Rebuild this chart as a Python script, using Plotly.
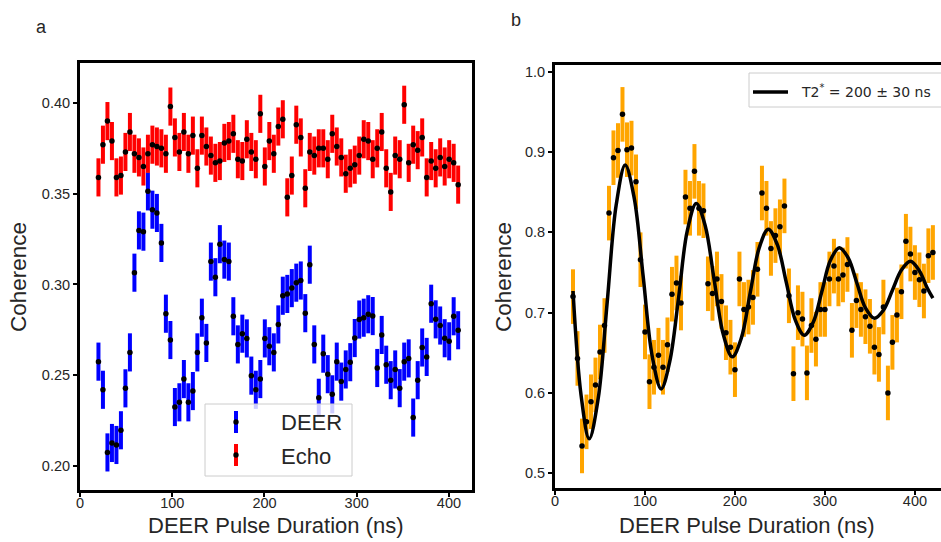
import numpy as np
import plotly.graph_objects as go

W, H = 941, 542

# ---------------- data ----------------
# Panel a (x grid: 81 samples between 20 and 410 ns)
X_A = np.linspace(20, 410, 81)
DEER = [0.2575, 0.242, 0.2075, 0.2127, 0.2116, 0.2197, 0.2428, 0.2626, 0.3065, 0.3298,
        0.3291, 0.3513, 0.3412, 0.3394, 0.3229, 0.2839, 0.2694, 0.2325, 0.2351, 0.2479,
        0.2351, 0.2413, 0.2626, 0.2817, 0.2678, 0.3126, 0.3040, 0.3222, 0.3137, 0.3126,
        0.2825, 0.267, 0.2729, 0.2703, 0.2498, 0.242, 0.2479, 0.2703, 0.266, 0.2626,
        0.278, 0.2938, 0.2948, 0.298, 0.301, 0.3022, 0.2842, 0.3109, 0.267, 0.2376,
        0.2619, 0.2506, 0.2395, 0.2575, 0.2465, 0.2532, 0.2572, 0.2705, 0.2807, 0.2817,
        0.2836, 0.2826, 0.254, 0.2722, 0.2558, 0.2473, 0.2532, 0.2429, 0.2575, 0.2593,
        0.2267, 0.2473, 0.2653, 0.2601, 0.2894, 0.2808, 0.2774, 0.2704, 0.2687, 0.2825,
        0.2748]
ECHO = [0.359, 0.377, 0.390, 0.379, 0.359, 0.360, 0.373, 0.384, 0.372, 0.370,
        0.365, 0.372, 0.377, 0.376, 0.375, 0.372, 0.398, 0.381, 0.373, 0.384,
        0.372, 0.382, 0.364, 0.382, 0.376, 0.371, 0.367, 0.368, 0.378, 0.379,
        0.383, 0.369, 0.368, 0.380, 0.373, 0.369, 0.394, 0.365, 0.379, 0.372,
        0.387, 0.391, 0.348, 0.360, 0.388, 0.381, 0.353, 0.373, 0.371, 0.375,
        0.375, 0.369, 0.383, 0.376, 0.370, 0.361, 0.364, 0.366, 0.371, 0.380,
        0.379, 0.369, 0.375, 0.384, 0.364, 0.351, 0.371, 0.369, 0.399, 0.367,
        0.377, 0.374, 0.381, 0.359, 0.368, 0.364, 0.370, 0.365, 0.369, 0.367,
        0.355]
ERR_A = 0.0105

# Panel b
X_B = list(range(20, 425, 5))
COH_B = [0.720, 0.643, 0.534, 0.564, 0.589, 0.610, 0.651, 0.684, 0.824, 0.893,
         0.902, 0.947, 0.903, 0.905, 0.863, 0.766, 0.676, 0.614, 0.632, 0.647,
         0.632, 0.660, 0.723, 0.737, 0.712, 0.844, 0.830, 0.876, 0.830, 0.827,
         0.736, 0.724, 0.742, 0.714, 0.675, 0.657, 0.629, 0.742, 0.704, 0.707,
         0.719, 0.754, 0.849, 0.830, 0.780, 0.796, 0.807, 0.833, 0.721, 0.624,
         0.700, 0.692, 0.625, 0.684, 0.667, 0.704, 0.704, 0.742, 0.758, 0.742,
         0.747, 0.760, 0.678, 0.715, 0.704, 0.695, 0.683, 0.657, 0.648, 0.707,
         0.600, 0.663, 0.697, 0.726, 0.789, 0.773, 0.750, 0.741, 0.727, 0.771,
         0.775]
ERR_B = 0.034

FIT_X = [20, 29, 38, 48, 58, 68, 78, 88, 98, 108, 118, 127.5, 137.5, 147, 157, 167, 177,
         187, 197, 207, 217, 227, 237, 247, 257, 267, 277, 287, 296.5, 306, 316, 326,
         335.5, 345, 355, 365, 375, 385, 395, 405, 414, 420]
FIT_Y = [0.727, 0.597, 0.543, 0.593, 0.713, 0.834, 0.884, 0.843, 0.745, 0.646, 0.605,
         0.639, 0.720, 0.802, 0.836, 0.808, 0.740, 0.673, 0.645, 0.668, 0.725, 0.781,
         0.804, 0.785, 0.738, 0.691, 0.672, 0.688, 0.726, 0.765, 0.781, 0.768, 0.737,
         0.706, 0.693, 0.703, 0.728, 0.753, 0.764, 0.752, 0.730, 0.718]

X_TICKS = [0, 100, 200, 300, 400]
YA_TICKS = [0.20, 0.25, 0.30, 0.35, 0.40]
YB_TICKS = [0.5, 0.6, 0.7, 0.8, 0.9, 1.0]

TXT = "#262626"
FONT = "Liberation Sans, Arial, sans-serif"

def px(x):
    return x / W

def py(y):
    return 1 - y / H

fig = go.Figure()

def err_trace(x, y, err, color, xa, ya):
    return go.Scatter(
        x=x, y=y, mode="markers", xaxis=xa, yaxis=ya, showlegend=False,
        marker=dict(color="black", size=5.5),
        error_y=dict(type="constant", value=err, color=color, thickness=4, width=0),
    )

fig.add_trace(err_trace(X_A, DEER, ERR_A, "#0000ff", "x", "y"))
fig.add_trace(err_trace(X_A, ECHO, ERR_A, "#ff0000", "x", "y"))
fig.add_trace(err_trace(X_B, COH_B, ERR_B, "#ffa500", "x2", "y2"))
fig.add_trace(go.Scatter(x=FIT_X, y=FIT_Y, mode="lines", xaxis="x2", yaxis="y2",
                         showlegend=False,
                         line=dict(color="black", width=3.5, shape="spline", smoothing=1.0)))

axis_common = dict(
    showline=True, linecolor="black", linewidth=3,
    ticks="outside", ticklen=4, tickwidth=1.5, tickcolor="black",
    showgrid=False, zeroline=False, automargin=False,
    tickfont=dict(family=FONT, size=14.5, color=TXT),
)

fig.update_layout(
    width=W, height=H,
    margin=dict(l=0, r=0, t=0, b=0, autoexpand=False),
    paper_bgcolor="white", plot_bgcolor="white",
    xaxis=dict(domain=[px(80), px(472)], range=[0, 425], tickvals=X_TICKS,
               anchor="y", mirror=True, ticklabelstandoff=-6, **axis_common),
    yaxis=dict(domain=[py(490), py(63)], range=[0.1868, 0.422], tickvals=YA_TICKS,
               tickformat=".2f", anchor="x", mirror=True, **axis_common),
    xaxis2=dict(domain=[px(555), 1.0], range=[0, 429], tickvals=X_TICKS,
                anchor="y2", mirror=True, ticklabelstandoff=-6, **axis_common),
    yaxis2=dict(domain=[py(488), py(65)], range=[0.4816, 1.0085], tickvals=YB_TICKS,
                tickformat=".1f", anchor="x2", mirror=False, **axis_common),
)

ann = []
def text(x, y, s, size, xanchor="center", angle=0, family=FONT, color=TXT):
    ann.append(dict(x=px(x), y=py(y), xref="paper", yref="paper", text=s,
                    showarrow=False, xanchor=xanchor, yanchor="middle", textangle=angle,
                    font=dict(family=family, size=size, color=color)))

text(41, 27, "a", 18)
text(516, 20, "b", 18)
text(276, 525, "DEER Pulse Duration (ns)", 22)
text(747, 525, "DEER Pulse Duration (ns)", 22)
text(18, 277, "Coherence", 22.5, angle=-90)
text(503, 277, "Coherence", 22.5, angle=-90)

shapes = []
# legend panel a
shapes.append(dict(type="rect", xref="paper", yref="paper", x0=px(205), x1=px(352),
                   y0=py(476), y1=py(404), line=dict(color="#cccccc", width=1),
                   fillcolor="rgba(255,255,255,0.8)"))
for yc, col in [(422, "#0000ff"), (455, "#ff0000")]:
    shapes.append(dict(type="line", xref="paper", yref="paper", x0=px(236), x1=px(236),
                       y0=py(yc - 11), y1=py(yc + 11), line=dict(color=col, width=4)))
    shapes.append(dict(type="circle", xref="paper", yref="paper", x0=px(233.3), x1=px(238.7),
                       y0=py(yc + 2.7), y1=py(yc - 2.7), fillcolor="black",
                       line=dict(color="black", width=0)))
text(279, 422, "DEER", 22, xanchor="left")
text(279, 456, "Echo", 22, xanchor="left")

# legend panel b
shapes.append(dict(type="rect", xref="paper", yref="paper", x0=px(749), x1=px(945),
                   y0=py(107), y1=py(73), line=dict(color="#cccccc", width=1),
                   fillcolor="rgba(255,255,255,0.8)"))
shapes.append(dict(type="line", xref="paper", yref="paper", x0=px(753), x1=px(788),
                   y0=py(92), y1=py(92), line=dict(color="black", width=3.5)))
text(799, 91, "T2<sup>*</sup> = 200 ± 30 ns", 14, xanchor="left",
     family="DejaVu Sans, sans-serif", color=TXT)

fig.update_layout(annotations=ann, shapes=shapes)
fig.write_html("out.html", config={"displayModeBar": False},
               post_script="document.body.style.margin='0';document.body.style.overflow='hidden';")
